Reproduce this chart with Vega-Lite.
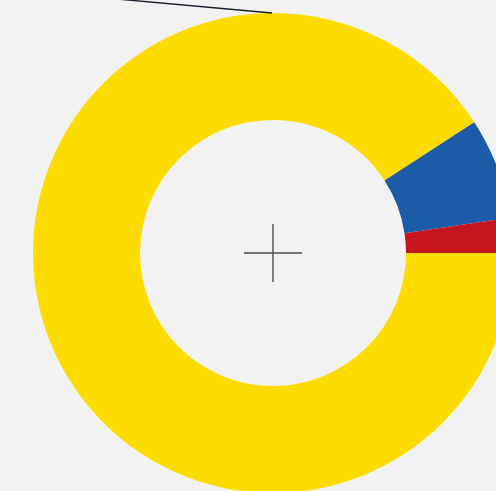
{
  "$schema": "https://vega.github.io/schema/vega-lite/v6.json",
  "width": 446,
  "height": 476,
  "autosize": "none",
  "padding": {"left": 50, "top": 15, "right": 0, "bottom": 0},
  "background": "#f2f2f2",
  "config": {"view": {"stroke": null}},
  "layer": [
    {
      "data": {"values": [
        {"seg": "Gelb", "part": 1, "value": 57},
        {"seg": "Blau", "part": 2, "value": 24.5},
        {"seg": "Rot", "part": 3, "value": 8.5},
        {"seg": "Gelb", "part": 4, "value": 270}
      ]},
      "mark": {"type": "arc", "outerRadius": 240, "innerRadius": 133},
      "encoding": {
        "theta": {"field": "value", "type": "quantitative", "stack": true},
        "order": {"field": "part", "type": "quantitative"},
        "color": {"field": "seg", "type": "nominal", "legend": null,
          "scale": {"domain": ["Gelb", "Blau", "Rot"], "range": ["#ffdc00", "#1c5ba8", "#c4161c"]}}
      }
    },
    {
      "data": {"values": [
        {"kind": "cross", "x": -29, "y": 0, "x2": 29, "y2": 0},
        {"kind": "cross", "x": 0, "y": -29, "x2": 0, "y2": 29},
        {"kind": "leader", "x": -300, "y": 267, "x2": -1, "y2": 240}
      ]},
      "mark": {"type": "rule", "strokeWidth": 1.4},
      "encoding": {
        "x": {"field": "x", "type": "quantitative", "scale": {"domain": [-223, 223]}, "axis": null},
        "y": {"field": "y", "type": "quantitative", "scale": {"domain": [-238, 238]}, "axis": null},
        "x2": {"field": "x2"},
        "y2": {"field": "y2"},
        "color": {"field": "kind", "type": "nominal", "legend": null,
          "scale": {"domain": ["cross", "leader"], "range": ["#4a4a4a", "#1a1f2e"]}}
      }
    }
  ],
  "resolve": {"scale": {"color": "independent"}}
}
